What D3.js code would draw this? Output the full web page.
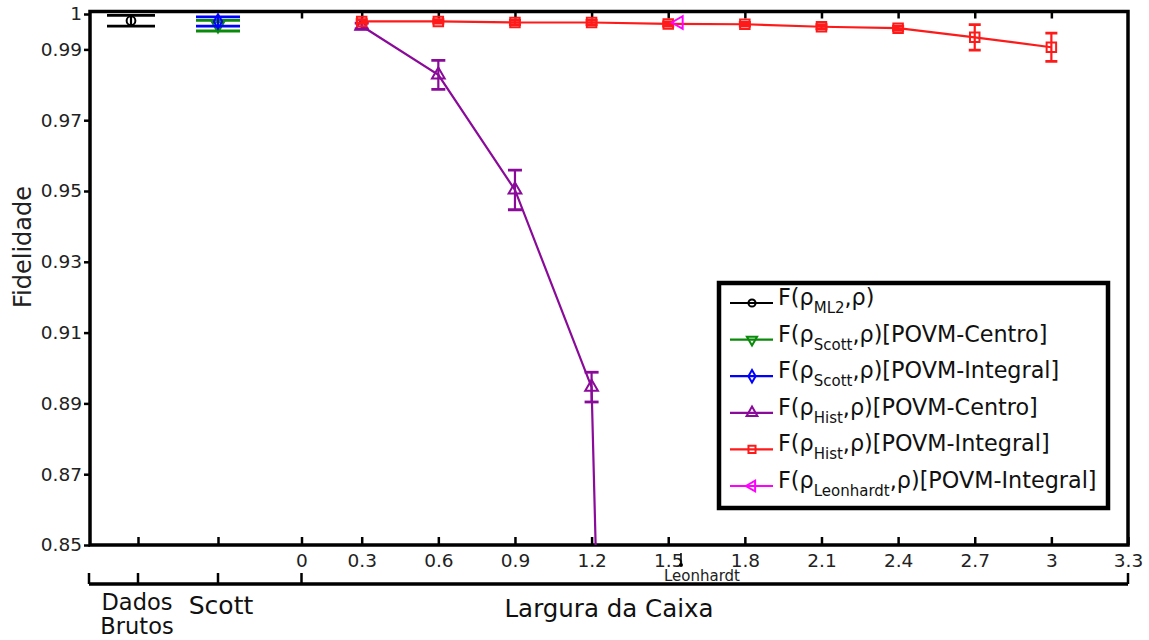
<!DOCTYPE html>
<html>
<head>
<meta charset="utf-8">
<script src="https://cdn.jsdelivr.net/npm/d3@7/dist/d3.min.js"></script>
<style>
  body { margin: 0; background: #fff; }
  svg { font-family: "DejaVu Sans", sans-serif; }
</style>
</head>
<body>
<div id="chart"></div>
<script>
// ---- data ----
const categories = ["Dados Brutos", "Scott"];
const xTicks = [0, 0.3, 0.6, 0.9, 1.2, 1.5, 1.8, 2.1, 2.4, 2.7, 3.0, 3.3];
const yTicks = [0.85, 0.87, 0.89, 0.91, 0.93, 0.95, 0.97, 0.99, 1];

const mlValue = 0.9981, mlError = 0.0015;
const scottCentroValue = 0.9967, scottCentroError = 0.0015;
const scottIntegralValue = 0.9979, scottIntegralError = 0.0013;

const histCentroWidths = [0.3, 0.6, 0.9, 1.2, 1.5];
const histCentroValues = [0.9966, 0.9828, 0.9503, 0.8946, 0.05];
const histCentroErrors = [0.0008, 0.0041, 0.0056, 0.0042, 0];

const histIntegralWidths = [0.3, 0.6, 0.9, 1.2, 1.5, 1.8, 2.1, 2.4, 2.7, 3.0];
const histIntegralValues = [0.9979, 0.9979, 0.9976, 0.9976, 0.9972, 0.9971, 0.9964, 0.9960, 0.9934, 0.9906];
const histIntegralErrors = [0.0005, 0.0005, 0.0006, 0.0006, 0.0006, 0.0005, 0.0006, 0.0006, 0.0036, 0.0040];

const leonhardtWidth = 1.55;
const leonhardtValue = 0.9976;

const legendSubs = ["ML2", "Scott", "Scott", "Hist", "Hist", "Leonhardt"];
const legendTails = ["", "[POVM-Centro]", "[POVM-Integral]", "[POVM-Centro]", "[POVM-Integral]", "[POVM-Integral]"];

// ---- layout ----
const width = 1149, height = 640;
const plotLeft = 90, plotRight = 1128, plotTop = 11.5, plotBottom = 545;

const svg = d3.select("#chart").append("svg")
    .attr("width", width)
    .attr("height", height);

// piecewise scale: the 0 - 0.3 gap is narrower in the original
const x = d3.scaleLinear().domain([0, 0.3, 3.3]).range([301.5, 361.7, plotRight]);
const xCat = d3.scalePoint().domain(categories).range([138, 218]);
const y = d3.scaleLinear().domain([0.85, 1]).range([plotBottom, 14]);

svg.append("clipPath").attr("id", "plotClip")
  .append("rect")
    .attr("x", plotLeft).attr("y", plotTop)
    .attr("width", plotRight - plotLeft).attr("height", plotBottom - plotTop);

// ---- axes ----
const axisFont = 18.5;

const xAxis = svg.append("g")
    .attr("transform", `translate(0,${plotBottom})`)
    .call(d3.axisBottom(x).tickValues(xTicks).tickSize(-8).tickPadding(9)
        .tickFormat(d => String(+d.toFixed(1))));
const catAxis = svg.append("g")
    .attr("transform", `translate(0,${plotBottom})`)
    .call(d3.axisBottom(xCat).tickSize(-8).tickFormat(""));
const topAxis = svg.append("g")
    .attr("transform", `translate(0,${plotTop})`)
    .call(d3.axisTop(x).tickValues(xTicks.slice(0, -1)).tickSize(-7).tickFormat(""));
const yAxis = svg.append("g")
    .attr("transform", `translate(${plotLeft},0)`)
    .call(d3.axisLeft(y).tickValues(yTicks).tickSize(6).tickPadding(2)
        .tickFormat(d => d === 1 ? "1" : d.toFixed(2)));

[xAxis, catAxis, topAxis, yAxis].forEach(a => {
    a.select(".domain").remove();
    a.selectAll(".tick line").attr("stroke", "#000").attr("stroke-width", 2.5);
    a.selectAll(".tick text")
        .attr("font-size", axisFont)
        .attr("font-family", "DejaVu Sans")
        .attr("fill", "#222");
});

// frame
svg.append("rect")
    .attr("x", plotLeft).attr("y", plotTop)
    .attr("width", plotRight - plotLeft).attr("height", plotBottom - plotTop)
    .attr("fill", "none")
    .attr("stroke", "#000")
    .attr("stroke-width", 3.5);

// second (grouping) axis below
const lowerY = 584;
svg.append("line")
    .attr("x1", plotLeft - 1).attr("x2", plotRight)
    .attr("y1", lowerY).attr("y2", lowerY)
    .attr("stroke", "#000").attr("stroke-width", 3.5);
[plotLeft - 1, xCat("Dados Brutos"), xCat("Scott"), x(0), plotRight].forEach(px => {
    svg.append("line")
        .attr("x1", px).attr("x2", px)
        .attr("y1", lowerY).attr("y2", lowerY - 11)
        .attr("stroke", "#000").attr("stroke-width", 2.5);
});

// Leonhardt marker on the axis
svg.append("line")
    .attr("x1", x(leonhardtWidth)).attr("x2", x(leonhardtWidth))
    .attr("y1", 553).attr("y2", 565)
    .attr("stroke", "#000").attr("stroke-width", 1.5);
svg.append("circle")
    .attr("cx", x(leonhardtWidth)).attr("cy", 565).attr("r", 2)
    .attr("fill", "#000");
svg.append("text")
    .attr("x", x(leonhardtWidth) + 21).attr("y", 581)
    .attr("text-anchor", "middle")
    .attr("font-size", 15)
    .attr("fill", "#222")
    .text("Leonhardt");

// axis titles
svg.append("text")
    .attr("transform", "translate(31,247) rotate(-90)")
    .attr("text-anchor", "middle")
    .attr("font-size", 24)
    .attr("fill", "#222")
    .text("Fidelidade");

svg.append("text")
    .attr("x", (plotLeft + plotRight) / 2).attr("y", 617)
    .attr("text-anchor", "middle")
    .attr("font-size", 24.5)
    .attr("fill", "#111")
    .text("Largura da Caixa");

svg.append("text")
    .attr("x", xCat("Scott") + 3).attr("y", 614)
    .attr("text-anchor", "middle")
    .attr("font-size", 25)
    .attr("fill", "#111")
    .text("Scott");

const dbLabel = svg.append("text")
    .attr("text-anchor", "middle")
    .attr("font-size", 22.5)
    .attr("fill", "#111");
dbLabel.append("tspan").attr("x", xCat("Dados Brutos") - 1).attr("y", 610).text("Dados");
dbLabel.append("tspan").attr("x", xCat("Dados Brutos") - 1).attr("y", 634).text("Brutos");

// ---- series ----
const plot = svg.append("g").attr("clip-path", "url(#plotClip)");

function marker(type, size, rotate) {
    return (sel, cx, cy) => sel.append("path")
        .attr("d", d3.symbol().type(type).size(size)())
        .attr("transform", `translate(${cx},${cy}) rotate(${rotate})`);
}

const styles = [
    { color: "#000000", mark: marker(d3.symbolCircle, 60, 0),    legendMark: marker(d3.symbolCircle, 40, 0),    cap: 48 },
    { color: "#0a8a0a", mark: marker(d3.symbolTriangle, 60, 180), legendMark: marker(d3.symbolTriangle, 45, 180), cap: 44 },
    { color: "#0000ff", mark: marker(d3.symbolDiamond, 60, 0),   legendMark: marker(d3.symbolDiamond, 45, 0),   cap: 44 },
    { color: "#8a0a9a", mark: marker(d3.symbolTriangle, 70, 0),  legendMark: marker(d3.symbolTriangle, 50, 0),  cap: 14 },
    { color: "#ff1a1a", mark: marker(d3.symbolSquare, 90, 0),    legendMark: marker(d3.symbolSquare, 50, 0),    cap: 12 },
    { color: "#ff00ff", mark: marker(d3.symbolTriangle, 70, -90), legendMark: marker(d3.symbolTriangle, 50, -90), cap: 10 }
];

function drawSeries(pts, st) {
    const g = plot.append("g")
        .attr("stroke", st.color)
        .attr("fill", "none")
        .attr("stroke-width", 2.2);
    if (pts.length > 1) {
        g.append("path")
            .datum(pts)
            .attr("d", d3.line().x(p => p.px).y(p => y(p.v)));
    }
    pts.forEach(p => {
        if (p.e > 0) {
            const y0 = y(p.v - p.e), y1 = y(p.v + p.e);
            g.append("line").attr("x1", p.px).attr("x2", p.px).attr("y1", y0).attr("y2", y1);
            [y0, y1].forEach(yy => g.append("line")
                .attr("x1", p.px - st.cap / 2).attr("x2", p.px + st.cap / 2)
                .attr("y1", yy).attr("y2", yy)
                .attr("stroke-width", 2.8));
        }
        st.mark(g, p.px, y(p.v)).attr("stroke-width", 2);
    });
}

drawSeries([{ px: xCat("Dados Brutos") - 7, v: mlValue, e: mlError }], styles[0]);
drawSeries([{ px: xCat("Scott"), v: scottCentroValue, e: scottCentroError }], styles[1]);
drawSeries([{ px: xCat("Scott"), v: scottIntegralValue, e: scottIntegralError }], styles[2]);
drawSeries(histCentroWidths.map((w, i) => ({ px: x(w), v: histCentroValues[i], e: histCentroErrors[i] })), styles[3]);
drawSeries(histIntegralWidths.map((w, i) => ({ px: x(w), v: histIntegralValues[i], e: histIntegralErrors[i] })), styles[4]);
drawSeries([{ px: x(leonhardtWidth) - 2, v: leonhardtValue, e: 0 }], styles[5]);

// ---- legend ----
const legend = svg.append("g");
legend.append("rect")
    .attr("x", 719).attr("y", 283)
    .attr("width", 389).attr("height", 225)
    .attr("fill", "#fff")
    .attr("stroke", "#000")
    .attr("stroke-width", 4.5);

legendSubs.forEach((sub, i) => {
    const ly = 303 + i * 36.6;
    const st = styles[i];
    const row = legend.append("g").attr("stroke", st.color).attr("fill", "none").attr("stroke-width", 2.2);
    row.append("line").attr("x1", 730).attr("x2", 773).attr("y1", ly).attr("y2", ly);
    st.legendMark(row, 752, ly).attr("stroke-width", 2);

    const t = legend.append("text")
        .attr("x", 778).attr("y", ly + 2)
        .attr("font-size", 22.3)
        .attr("fill", "#111");
    t.append("tspan").text("F(\u03C1");
    t.append("tspan").attr("font-size", 15).attr("dy", 8).text(sub);
    t.append("tspan").attr("dy", -8).text(",\u03C1)" + legendTails[i]);
});
</script>
</body>
</html>
